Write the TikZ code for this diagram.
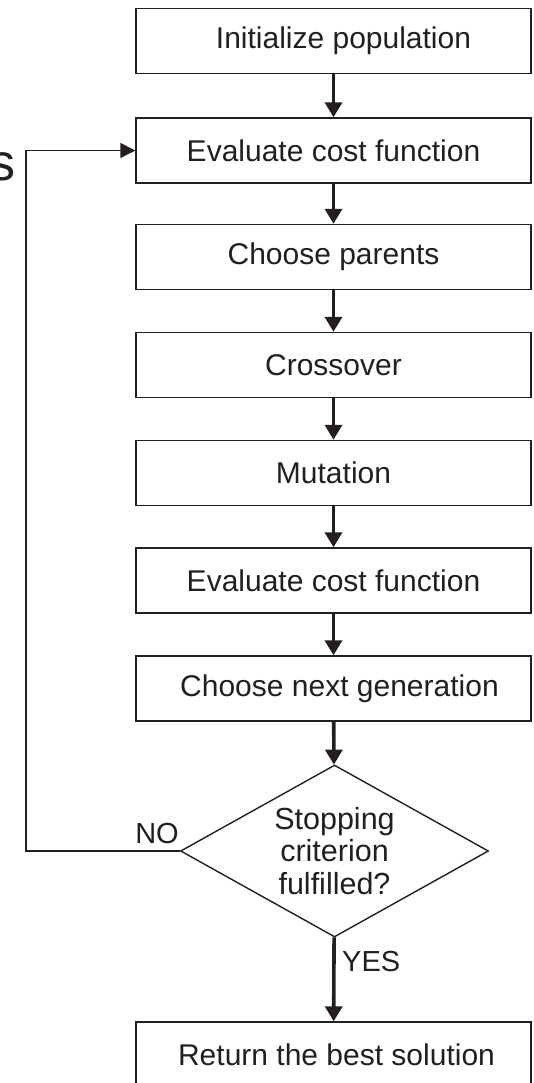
\documentclass[tikz,border=0pt]{standalone}
\usepackage{fontspec}
\setmainfont{Liberation Sans}
\usetikzlibrary{shapes.geometric,arrows.meta}
\definecolor{ink}{HTML}{231F20}
\tikzset{
  stepbox/.style={draw=ink, line width=1.4pt, minimum width=395pt, minimum height=65pt,
    inner sep=0pt, text=ink, font=\fontsize{30}{32}\selectfont},
  testbox/.style={diamond, draw=ink, line width=1.4pt, aspect=1.79, minimum width=308pt,
    minimum height=172pt, inner sep=0pt, text=ink, align=center,
    font=\fontsize{30.5}{32.5}\selectfont},
  flow/.style={draw=ink, line width=3.6pt, -{Triangle[width=17pt,length=15pt]}},
  back/.style={draw=ink, line width=1.4pt, -{Triangle[width=15pt,length=15pt]}},
  lbl/.style={text=ink, inner sep=0pt, font=\fontsize{29}{30}\selectfont}
}
\begin{document}
\begin{tikzpicture}[x=1pt,y=-1pt]
  \useasboundingbox (0,0) rectangle (533,1083);

  % the steps of one generation
  \foreach \name/\ypos/\txt in {init/41/\hspace{20pt}Initialize population,
      eval/150.5/Evaluate cost function,
      parents/257/Choose parents,
      cross/365/Crossover,
      mut/473/Mutation,
      evaltwo/580.5/Evaluate cost function,
      next/688.5/\hspace{12pt}Choose next generation}
    \node[stepbox] (\name) at (333.5,\ypos) {\txt};

  % stopping test and result
  \node[testbox] (stop) at (334.5,851) {Stopping\\criterion\\fulfilled?};
  \node[stepbox] (best) at (333.5,1054.5) {\hspace{6pt}Return the best solution};

  % text cut off at the left edge
  \node[text=ink, inner sep=0pt, anchor=base east, font=\fontsize{52}{52}\selectfont]
    (gen) at (16,181) {s};

  % main flow
  \foreach \a/\b in {init/eval, eval/parents, parents/cross, cross/mut,
      mut/evaltwo, evaltwo/next, next/stop}
    \draw[flow] (\a) -- (\b);
  \draw[flow] (stop) -- (best);

  % back to the evaluation when not done
  \coordinate (turn) at (26,851);
  \draw[back] (stop.west) -- (turn) |- (eval.west);

  % answers
  \node[lbl, anchor=south east] (no) at (179,844) {NO};
  \node[lbl, anchor=south west] (yes) at (342,972) {YES};
\end{tikzpicture}
\end{document}
